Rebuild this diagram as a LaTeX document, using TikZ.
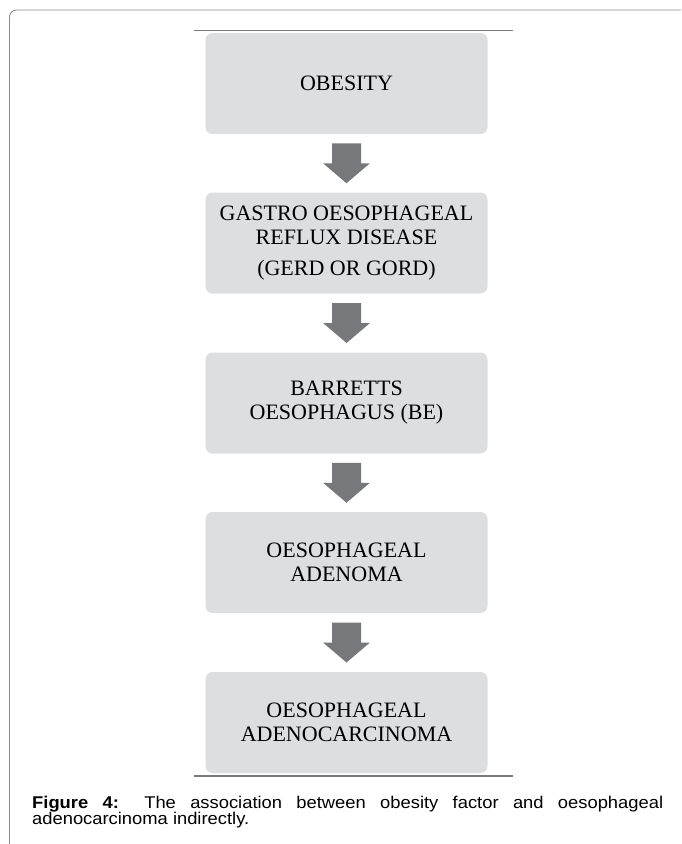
\documentclass[tikz,border=0pt]{standalone}
\usepackage{fontspec}
\setmainfont{Liberation Serif}
\newfontfamily\capfont[FakeStretch=1.08]{Liberation Sans}
\usetikzlibrary{positioning, calc}

\definecolor{boxgray}{HTML}{DDDEDF}
\definecolor{arrowgray}{HTML}{77787B}
\definecolor{rulegray}{HTML}{7A7A7A}
\definecolor{framegray}{HTML}{8C8C8C}

\tikzset{
  stage/.style={rectangle, rounded corners=7pt, fill=boxgray, draw=none,
    minimum width=282pt, minimum height=101pt, align=center,
    font=\fontsize{22}{24}\selectfont},
  rule/.style={draw=rulegray, line width=1.3pt},
  frame/.style={draw=framegray, line width=0.9pt},
  flowarrow/.pic={
    \fill[arrowgray] (-14.5,-20) -- (14.5,-20) -- (14.5,0) -- (23.5,0)
      -- (0,20) -- (-23.5,0) -- (-14.5,0) -- cycle;
  }
}

\begin{document}
\begin{tikzpicture}[x=1pt, y=-1pt]

\useasboundingbox (0,0) rectangle (681,844);

% outer frame
\draw[frame, rounded corners=7pt] (681,10) -- (9.5,10) -- (9.5,844);

\draw[rule] (194,30.3) -- (513,30.3);
\draw[rule] (194,776) -- (513,776);

\node[stage] (obesity) at (346.5,83.5) {OBESITY};
\node[stage] (gerd) at (346.5,243) {GASTRO OESOPHAGEAL\\REFLUX DISEASE\\[6.7pt](GERD OR GORD)};
\node[stage] (barrett) at (346.5,403) {BARRETTS\\OESOPHAGUS (BE)};
\node[stage] (adenoma) at (346.5,562.5) {OESOPHAGEAL\\ADENOMA};
\node[stage] (carcinoma) at (346.5,722.5) {OESOPHAGEAL\\ADENOCARCINOMA};

\pic at ($(obesity.south)!0.5!(gerd.north)$) {flowarrow};
\pic at ($(gerd.south)!0.5!(barrett.north)$) {flowarrow};
\pic at ($(barrett.south)!0.5!(adenoma.north)$) {flowarrow};
\pic at ($(adenoma.south)!0.5!(carcinoma.north)$) {flowarrow};

\node[anchor=north west, inner sep=0pt, text width=631pt, align=justify,
  font=\capfont\fontsize{17}{16.5}\selectfont] (caption) at (32,795.5)
  {\textbf{Figure 4:} The association between obesity factor and oesophageal\linebreak adenocarcinoma indirectly.};

\end{tikzpicture}
\end{document}
